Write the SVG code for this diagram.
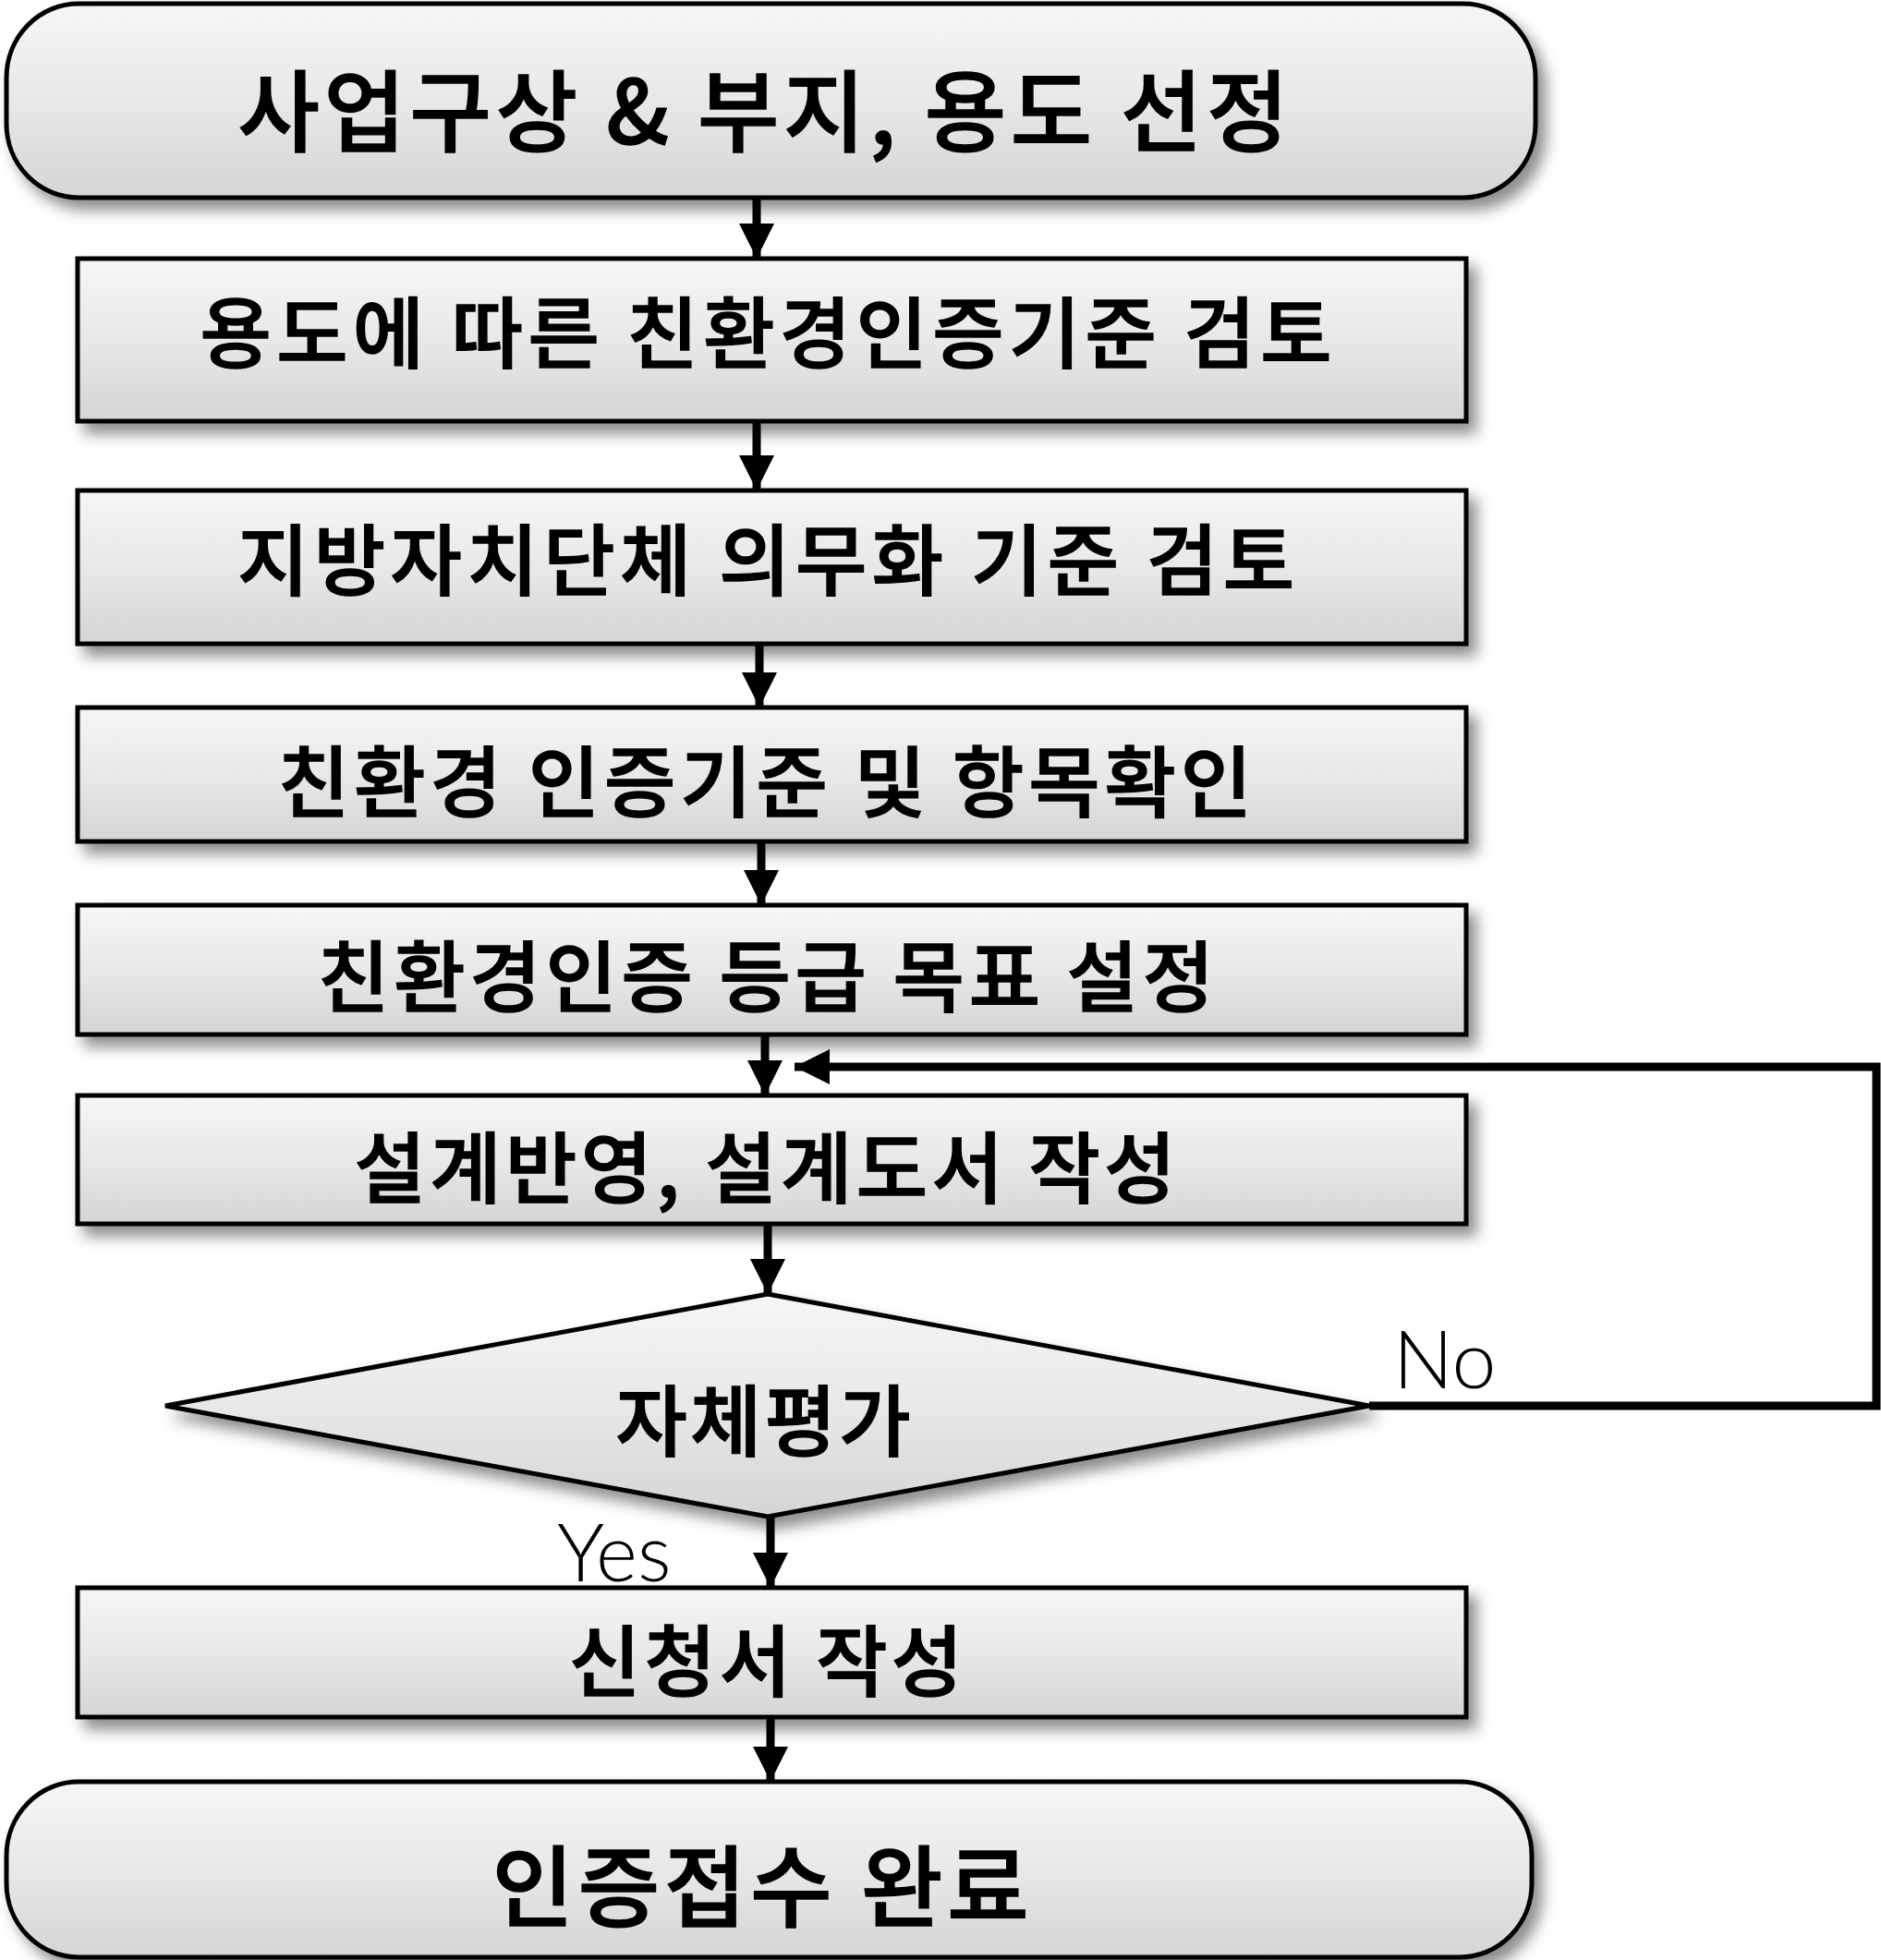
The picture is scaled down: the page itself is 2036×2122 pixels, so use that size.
<svg xmlns="http://www.w3.org/2000/svg" width="2036" height="2122" viewBox="0 0 2036 2122">
<defs>
<linearGradient id="g" x1="0" y1="0" x2="0" y2="1">
<stop offset="0" stop-color="#f6f6f6"/>
<stop offset="0.5" stop-color="#e8e8e8"/>
<stop offset="1" stop-color="#d5d5d5"/>
</linearGradient>
<filter id="sh" x="-10%" y="-20%" width="125%" height="150%">
<feDropShadow dx="9" dy="11" stdDeviation="8" flood-color="#000" flood-opacity="0.45"/>
</filter>
<marker id="ah" viewBox="0 0 10 10" refX="10" refY="5" markerWidth="40" markerHeight="38" markerUnits="userSpaceOnUse" orient="auto">
<path d="M0,0 L10,5 L0,10 Z" fill="#000"/>
</marker>
<style>
.n{fill:url(#g);stroke:#000;stroke-width:5;filter:url(#sh)}
.t{font-family:"Noto Sans CJK KR","Noto Sans",sans-serif;font-weight:500;fill:#000;stroke:#000;stroke-width:1.5;text-anchor:middle;dominant-baseline:central}
.c{fill:none;stroke:#000;stroke-width:9}
.l{font-family:Lato,"DejaVu Sans",sans-serif;font-weight:300;font-size:86px;fill:#000}
</style>
</defs>
<g id="start">
<rect class="n" x="7" y="4" width="1655" height="210" rx="78" ry="80"/>
<text class="t" x="826" y="114" font-size="96" textLength="1137" lengthAdjust="spacing">사업구상 &amp; 부지, 용도 선정</text>
</g>
<g id="step1">
<rect class="n" x="84" y="280" width="1503" height="176"/>
<text class="t" x="829" y="355" font-size="84" textLength="1225" lengthAdjust="spacing">용도에 따른 친환경인증기준 검토</text>
</g>
<g id="step2">
<rect class="n" x="84" y="531" width="1503" height="166"/>
<text class="t" x="829" y="601" font-size="84" textLength="1144" lengthAdjust="spacing">지방자치단체 의무화 기준 검토</text>
</g>
<g id="step3">
<rect class="n" x="84" y="766" width="1503" height="145"/>
<text class="t" x="828" y="841" font-size="84" textLength="1054" lengthAdjust="spacing">친환경 인증기준 및 항목확인</text>
</g>
<g id="step4">
<rect class="n" x="84" y="980" width="1503" height="140"/>
<text class="t" x="829" y="1052" font-size="84" textLength="970" lengthAdjust="spacing">친환경인증 등급 목표 설정</text>
</g>
<g id="step5">
<rect class="n" x="84" y="1186" width="1503" height="139"/>
<text class="t" x="828" y="1259" font-size="84" textLength="889" lengthAdjust="spacing">설계반영, 설계도서 작성</text>
</g>
<g id="decision">
<polygon class="n" points="831,1401 1482,1522 831,1642 179,1522"/>
<text class="t" x="826" y="1533" font-size="84" textLength="319" lengthAdjust="spacing">자체평가</text>
</g>
<g id="step6">
<rect class="n" x="84" y="1719" width="1503" height="140"/>
<text class="t" x="829" y="1793" font-size="84" textLength="426" lengthAdjust="spacing">신청서 작성</text>
</g>
<g id="end">
<rect class="n" x="7" y="1929" width="1651" height="190" rx="78" ry="80"/>
<text class="t" x="823" y="2036" font-size="96" textLength="581" lengthAdjust="spacing">인증접수 완료</text>
</g>
<g id="connectors">
<line class="c" x1="819" y1="214" x2="819" y2="280" marker-end="url(#ah)"/>
<line class="c" x1="819" y1="456" x2="819" y2="531" marker-end="url(#ah)"/>
<line class="c" x1="822" y1="697" x2="822" y2="766" marker-end="url(#ah)"/>
<line class="c" x1="824" y1="911" x2="824" y2="980" marker-end="url(#ah)"/>
<line class="c" x1="828" y1="1120" x2="828" y2="1186" marker-end="url(#ah)"/>
<line class="c" x1="831" y1="1325" x2="831" y2="1401" marker-end="url(#ah)"/>
<line class="c" x1="834" y1="1642" x2="834" y2="1719" marker-end="url(#ah)"/>
<line class="c" x1="834" y1="1859" x2="834" y2="1929" marker-end="url(#ah)"/>
<path class="c" stroke-width="11" d="M1482,1522 H2031 V1155 H860" marker-end="url(#ah)"/>
<text class="l" x="1508" y="1503">No</text>
<text class="l" x="603" y="1712">Yes</text>
</g>
</svg>
